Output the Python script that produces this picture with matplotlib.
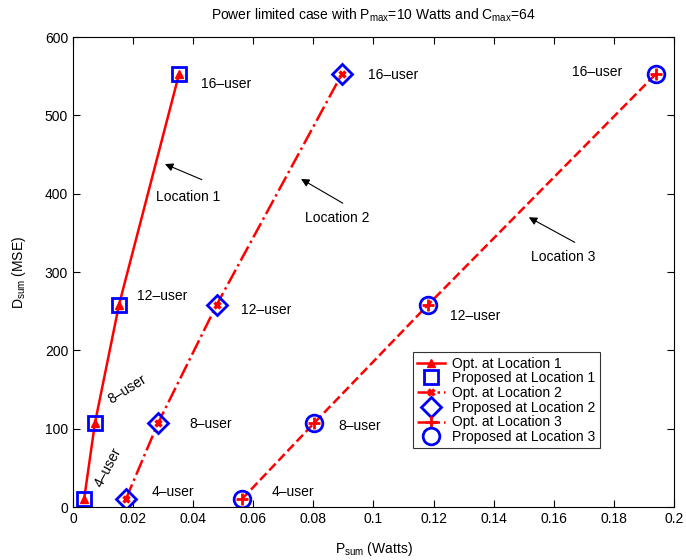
import matplotlib
matplotlib.use("Agg")
import matplotlib.pyplot as plt

plt.rcParams["font.family"] = ["Liberation Sans", "DejaVu Sans"]
plt.rcParams["mathtext.default"] = "regular"

# data (P_sum in Watts, D_sum in MSE)
users = ["4", "8", "12", "16"]
d_sum = [10, 107, 258, 553]
p_loc1_opt = [0.0037, 0.0073, 0.0153, 0.0353]
p_loc1_prop = [0.0037, 0.0073, 0.0153, 0.0353]
p_loc2_opt = [0.0176, 0.0283, 0.0478, 0.0895]
p_loc2_prop = [0.0176, 0.0283, 0.0478, 0.0895]
p_loc3_opt = [0.0562, 0.0802, 0.1181, 0.1940]
p_loc3_prop = [0.0562, 0.0802, 0.1181, 0.1940]

# user-count labels: (x, y, rotation)
labels_loc1 = [(0.0116, 51, 62), (0.0180, 150, 32), (0.0296, 269, 0), (0.0509, 540, 0)]
labels_loc2 = [(0.0333, 19, 0), (0.0459, 106, 0), (0.0642, 252, 0), (0.1065, 552, 0)]
labels_loc3 = [(0.0732, 19, 0), (0.0955, 103, 0), (0.1338, 244, 0), (0.1744, 556, 0)]

# location annotations: (name, arrow head, arrow tail, text position)
locations = [
    ("Location 1", (0.0306, 438), (0.0429, 418), (0.0383, 396)),
    ("Location 2", (0.0759, 419), (0.0898, 388), (0.0878, 369)),
    ("Location 3", (0.1517, 370), (0.1670, 338), (0.1630, 319)),
]

fig = plt.figure(figsize=(6.86, 5.6), dpi=100)
ax = fig.add_axes([0.1064, 0.0946, 0.876, 0.839])

red = "#ff0000"
blue = "#0000ff"

ax.plot(p_loc1_opt, d_sum, "-", color=red, lw=1.8, marker="^", ms=6,
        mfc=red, mec=red, label="Opt. at Location 1")
ax.plot(p_loc1_prop, d_sum, ls="none", marker="s", ms=10, mfc="none",
        mec=blue, mew=2, label="Proposed at Location 1")
ax.plot(p_loc2_opt, d_sum, "-.", color=red, lw=1.8, marker="x", ms=5,
        mew=2.5, mec=red, label="Opt. at Location 2")
ax.plot(p_loc2_prop, d_sum, ls="none", marker="D", ms=10, mfc="none",
        mec=blue, mew=2, label="Proposed at Location 2")
ax.plot(p_loc3_opt, d_sum, "--", color=red, lw=1.8, marker="+", ms=8,
        mew=2, mec=red, label="Opt. at Location 3")
ax.plot(p_loc3_prop, d_sum, ls="none", marker="o", ms=12, mfc="none",
        mec=blue, mew=2, label="Proposed at Location 3")

for group in (labels_loc1, labels_loc2, labels_loc3):
    for u, (x, y, rot) in zip(users, group):
        ax.text(x, y, u + "\u2013user", fontsize=10, rotation=rot,
                ha="center", va="center", rotation_mode="anchor")

arrow = dict(arrowstyle="-|>", color="black", lw=0.8, mutation_scale=12,
             shrinkA=0, shrinkB=0)
for name, head, tail, pos in locations:
    ax.annotate("", xy=head, xytext=tail, arrowprops=arrow)
    ax.text(pos[0], pos[1], name, fontsize=10, ha="center", va="center")

ax.set_xlim(0, 0.2)
ax.set_ylim(0, 600)
ax.set_xticks([0, 0.02, 0.04, 0.06, 0.08, 0.1, 0.12, 0.14, 0.16, 0.18, 0.2])
ax.set_xticklabels(["0", "0.02", "0.04", "0.06", "0.08", "0.1", "0.12",
                    "0.14", "0.16", "0.18", "0.2"])
ax.set_yticks(range(0, 601, 100))
ax.tick_params(direction="in", top=True, right=True, labelsize=10, length=5)

ax.set_xlabel("P$_{sum}$ (Watts)", fontsize=10, labelpad=10)
ax.set_ylabel("D$_{sum}$ (MSE)", fontsize=10, labelpad=12)
ax.set_title("Power limited case with P$_{max}$=10 Watts and C$_{max}$=64",
             fontsize=10, pad=13)

leg = ax.legend(loc="lower left", bbox_to_anchor=(0.566, 0.125), fontsize=10,
                frameon=True, fancybox=False, edgecolor="black",
                handlelength=2.0, borderpad=0.3, labelspacing=0.05,
                handletextpad=0.5, borderaxespad=0)
leg.get_frame().set_linewidth(0.8)

fig.savefig("out.png", dpi=100)
